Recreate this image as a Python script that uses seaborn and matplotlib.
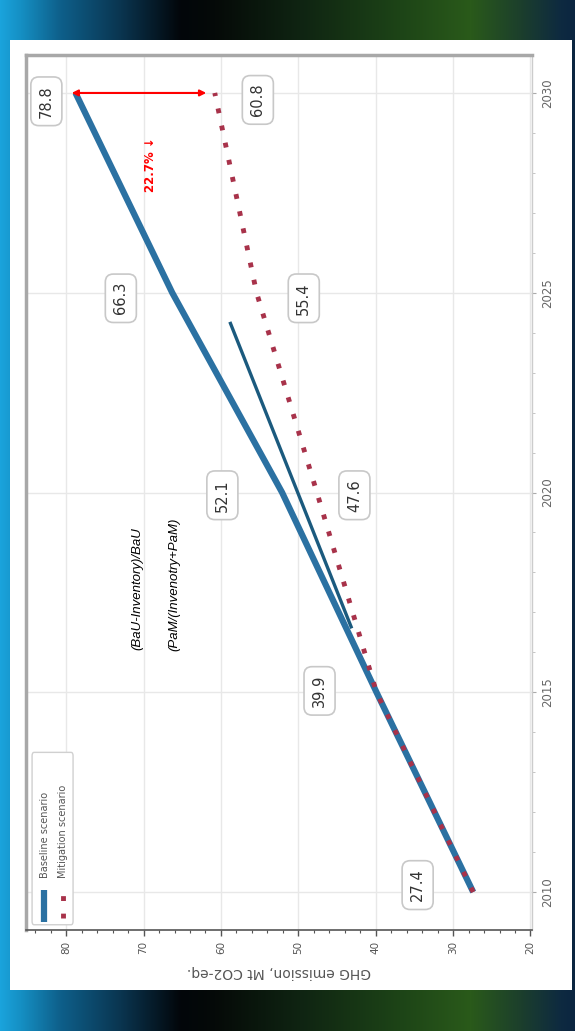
import numpy as np
import matplotlib
matplotlib.use('Agg')
import matplotlib.pyplot as plt
import seaborn as sns
from matplotlib.patches import Rectangle, FancyBboxPatch
from matplotlib.lines import Line2D
from matplotlib.ticker import MultipleLocator

# data
years = [2010, 2015, 2020, 2025, 2030]
baseline = [27.4, 39.9, 52.1, 66.3, 78.8]
mitigation = [27.4, 39.9, 47.6, 55.4, 60.8]
series_names = ['Baseline scenario', 'Mitigation scenario']
axis_label = 'GHG emission, Mt CO2-eq.'
reduction_text = '22.7% \u2193'
formula_bau = '(BaU-Inventory)/BaU'
formula_pam = '(PaM/(Invenotry+PaM)'
# hand drawn trend segment
trend_years = [2016.6, 2024.27]
trend_values = [43.1, 58.85]

sns.set_style('white')
plt.rcParams['font.family'] = ['DejaVu Sans']

W, H = 575, 1031
fig = plt.figure(figsize=(W / 100, H / 100), dpi=100)

# slide background gradient + white panel
bg = fig.add_axes([0, 0, 1, 1], zorder=0)
bg.axis('off')
stops = [0, 20, 60, 120, 180, 215, 300, 400, 470, 520, 560, 575]
cols = ['#1aa3dc', '#1590c4', '#0e5f8a', '#0a3550', '#02060a', '#050a08',
        '#0f2412', '#1d4417', '#2a5a1a', '#1c3f2c', '#0e2a40', '#0b2540']
rgb = np.array([matplotlib.colors.to_rgb(c) for c in cols])
xs = np.arange(W)
grad = np.stack([np.interp(xs, stops, rgb[:, k]) for k in range(3)], axis=-1)
bg.imshow(grad[None, :, :], aspect='auto', extent=[0, 1, 0, 1])
bg.add_patch(Rectangle((10 / W, 41 / H), 562 / W, 950 / H, facecolor='white',
                       edgecolor='none', zorder=2))
bg.set_xlim(0, 1)
bg.set_ylim(0, 1)

ax = fig.add_axes([26 / W, 101 / H, 506 / W, 875 / H], zorder=1)
ax.set_facecolor('white')

sns.lineplot(x=baseline, y=years, orient='y', ax=ax, color='#2b71a2', lw=4.5,
             solid_capstyle='butt', zorder=3)
sns.lineplot(x=mitigation, y=years, orient='y', ax=ax, color='#a8324a', lw=3.5,
             linestyle=(0, (1, 2.6)), zorder=4)
ax.plot(trend_values, trend_years, color='#1b5a7e', lw=2.4, solid_capstyle='butt', zorder=4)

ax.set_xlim(85.2, 19.8)
ax.set_ylim(2009.05, 2030.95)
ax.xaxis.set_major_locator(MultipleLocator(10))
ax.xaxis.set_minor_locator(MultipleLocator(2))
ax.yaxis.set_major_locator(MultipleLocator(5))
ax.yaxis.set_minor_locator(MultipleLocator(1))
ax.yaxis.tick_right()
ax.grid(True, which='major', color='#e8e8e8', lw=1)
ax.set_axisbelow(True)

ax.tick_params(axis='x', which='major', labelrotation=90, labelsize=7.5, labelcolor='#555555',
               color='#555555', length=4, width=1, bottom=True)
ax.tick_params(axis='x', which='minor', color='#555555', length=2.5, width=0.8, bottom=True)
ax.tick_params(axis='y', which='major', labelrotation=90, labelsize=8.5, labelcolor='#666666',
               color='#aaaaaa', length=3, right=True)
ax.tick_params(axis='y', which='minor', color='#bbbbbb', length=2, right=True)
for lab in ax.get_yticklabels():
    lab.set_verticalalignment('center')

ax.set_xlabel(axis_label, rotation=180, fontsize=10, color='#555555', labelpad=8)
ax.set_ylabel('')

for side, c, w in [('top', '#a8a8a8', 2.5), ('left', '#a8a8a8', 2.5),
                   ('right', '#cccccc', 1.0), ('bottom', '#555555', 1.2)]:
    ax.spines[side].set_visible(True)
    ax.spines[side].set_color(c)
    ax.spines[side].set_linewidth(w)

# value boxes
box = dict(boxstyle='round,pad=0.55', fc='white', ec='#c8c8c8', lw=1.2)
base_offsets = [(-40, 5), (-41, 1), (-43, -2), (-37, -4), (-21, -6)]
for yr, v, off in zip(years, baseline, base_offsets):
    ax.annotate(f'{v:.1f}', xy=(v, yr), xytext=off, textcoords='offset points',
                rotation=90, ha='center', va='center', fontsize=10.5, color='#333333',
                bbox=box, zorder=5)
mit_offsets = [(27, -2), (34, -4), (31, -5)]
for yr, v, off in zip(years[2:], mitigation[2:], mit_offsets):
    ax.annotate(f'{v:.1f}', xy=(v, yr), xytext=off, textcoords='offset points',
                rotation=90, ha='center', va='center', fontsize=10.5, color='#333333',
                bbox=box, zorder=5)

# reduction arrow at the last year
ax.annotate('', xy=(mitigation[-1] + 1.1, years[-1]), xytext=(baseline[-1] + 0.5, years[-1]),
            arrowprops=dict(arrowstyle='<|-|>', color='red', lw=1.5, mutation_scale=9,
                            shrinkA=0, shrinkB=0), zorder=6)
ax.text((baseline[-1] + mitigation[-1]) / 2 - 0.7, years[-1] - 1.8, reduction_text,
        rotation=90, color='red', fontsize=8.5, fontweight='bold', ha='center', va='center')
ax.text(70.75, 2017.6, formula_bau, rotation=90, style='italic', fontsize=9.5,
        ha='center', va='center', color='black', family=['Liberation Sans', 'DejaVu Sans'])
ax.text(66.0, 2017.7, formula_pam, rotation=90, style='italic', fontsize=9.5,
        ha='center', va='center', color='black', family=['Liberation Sans', 'DejaVu Sans'])

# legend, drawn rotated like the rest of the chart
ax.add_patch(FancyBboxPatch((0.012, 0.006), 0.081, 0.197, transform=ax.transAxes,
                            boxstyle='round,pad=0,rounding_size=0.004', fc='white',
                            ec='#d0d0d0', lw=1, zorder=6))
ax.add_line(Line2D([0.0356, 0.0356], [0.009, 0.0457], transform=ax.transAxes,
                   color='#2b71a2', lw=4.5, solid_capstyle='butt', zorder=7))
ax.add_line(Line2D([0.0731, 0.0731], [0.014, 0.046], transform=ax.transAxes,
                   color='#a8324a', lw=3.5, linestyle=(0, (1, 2.6)), zorder=7))
ax.text(0.0375, 0.0594, series_names[0], transform=ax.transAxes, rotation=90,
        ha='center', va='bottom', fontsize=7, color='#555555', zorder=7)
ax.text(0.0731, 0.0594, series_names[1], transform=ax.transAxes, rotation=90,
        ha='center', va='bottom', fontsize=7, color='#555555', zorder=7)

fig.savefig('out.png', dpi=100)
plt.close(fig)
